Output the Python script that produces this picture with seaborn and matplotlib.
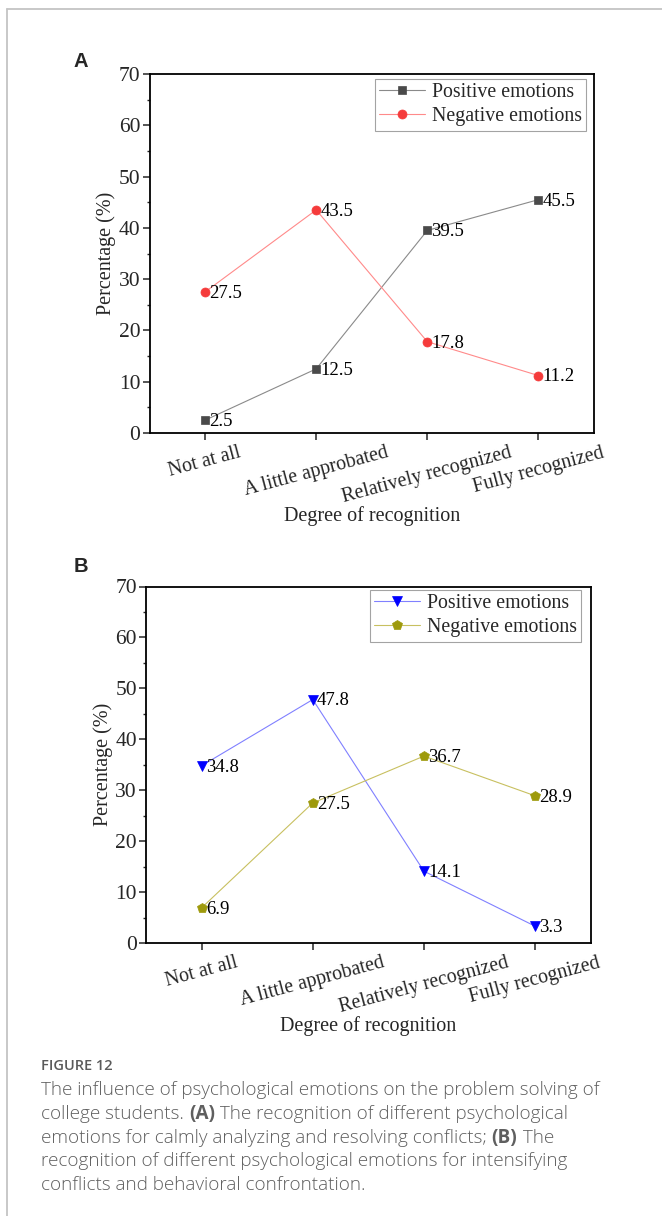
import pandas as pd
import seaborn as sns
import matplotlib.pyplot as plt
from matplotlib.lines import Line2D
from matplotlib.ticker import MultipleLocator

sns.set_style("ticks")
plt.rcParams['font.family'] = ['Liberation Serif', 'DejaVu Serif']
plt.rcParams['axes.unicode_minus'] = False

# --- data ---
categories = ['Not at all', 'A little approbated', 'Relatively recognized', 'Fully recognized']
series_names = ['Positive emotions', 'Negative emotions']

a_positive = [2.5, 12.5, 39.5, 45.5]
a_negative = [27.5, 43.5, 17.8, 11.2]
b_positive = [34.8, 47.8, 14.1, 3.3]
b_negative = [6.9, 27.5, 36.7, 28.9]

caption_title = "FIGURE 12"
caption_lines = [
    [("The influence of psychological emotions on the problem solving of", False)],
    [("college students. ", False), ("(A)", True), (" The recognition of different psychological", False)],
    [("emotions for calmly analyzing and resolving conflicts; ", False), ("(B)", True), (" The", False)],
    [("recognition of different psychological emotions for intensifying", False)],
    [("conflicts and behavioral confrontation.", False)],
]

W, H = 662, 1216
fig = plt.figure(figsize=(W / 100, H / 100), dpi=100)


def px_axes(left, top, right, bottom):
    return fig.add_axes([left / W, 1 - bottom / H, (right - left) / W, (bottom - top) / H])


def draw_panel(ax, pos_vals, neg_vals, styles, legend_box):
    df = pd.DataFrame({
        'x': list(range(len(categories))) * 2,
        'value': pos_vals + neg_vals,
        'series': [series_names[0]] * len(categories) + [series_names[1]] * len(categories),
    })
    for name, st in zip(series_names, styles):
        sub = df[df['series'] == name]
        sns.lineplot(data=sub, x='x', y='value', ax=ax, color=st['line'], linewidth=0.8,
                     marker=st['marker'], markersize=st['ms'], markerfacecolor=st['mc'],
                     markeredgecolor=st['mc'], markeredgewidth=0.5, label=name,
                     errorbar=None, sort=False)
        for x, v in zip(sub['x'], sub['value']):
            ax.annotate(f"{v:.1f}", (x, v), xytext=(3, -1), textcoords='offset points',
                        ha='left', va='center', fontsize=13.5, color='black')

    ax.set_xlim(-0.5, 3.5)
    ax.set_ylim(0, 70)
    ax.yaxis.set_major_locator(MultipleLocator(10))
    ax.yaxis.set_minor_locator(MultipleLocator(5))
    ax.set_xticks(range(len(categories)))
    ax.set_xticklabels(categories, rotation=15, ha='center', fontsize=14.3)
    ax.tick_params(axis='y', labelsize=15.5)
    ax.tick_params(which='major', direction='out', length=5, width=1.1, pad=1.5)
    ax.tick_params(axis='x', which='major', pad=2.5)
    ax.tick_params(which='minor', direction='out', length=2.5, width=1.0)
    ax.tick_params(top=False, right=False)
    for sp in ax.spines.values():
        sp.set_visible(True)
        sp.set_linewidth(1.3)
        sp.set_color('black')
    ax.set_xlabel('Degree of recognition', fontsize=14.5, labelpad=-1)
    ax.set_ylabel('Percentage (%)', fontsize=14.5, labelpad=2)
    leg = ax.legend(loc='upper right', bbox_to_anchor=legend_box, fontsize=14.3,
                    frameon=True, fancybox=False, handlelength=2.3, handletextpad=0.35,
                    labelspacing=0.25, borderpad=0.22, borderaxespad=0)
    leg.get_frame().set_edgecolor('#8c8c8c')
    leg.get_frame().set_linewidth(0.8)


# panel A
ax_a = px_axes(149.5, 74, 594, 433)
draw_panel(ax_a, a_positive, a_negative,
           [dict(line='#8a8a8a', marker='s', ms=5.5, mc='#4a4a4a'),
            dict(line='#ff8a8a', marker='o', ms=6.5, mc='#f53b3b')],
           ((586 - 149.5) / (594 - 149.5), (433 - 79) / (433 - 74)))
fig.text(74 / W, 1 - 61.5 / H, 'A', family='Liberation Sans', fontweight='bold',
         fontsize=14.5, va='center', ha='left')

# panel B
ax_b = px_axes(146, 586.5, 590.7, 943)
draw_panel(ax_b, b_positive, b_negative,
           [dict(line='#8080ff', marker='v', ms=7, mc='#0000ff'),
            dict(line='#c8c060', marker='p', ms=7, mc='#9e9a0c')],
           ((581 - 146) / (590.7 - 146), (943 - 590) / (943 - 586.5)))
fig.text(74 / W, 1 - 566 / H, 'B', family='Liberation Sans', fontweight='bold',
         fontsize=14.5, va='center', ha='left')

# frame around the figure card
frame_kw = dict(color='#c4c4c4', linewidth=1.3, transform=fig.transFigure)
fig.add_artist(Line2D([6.5 / W, 1.0], [1 - 8.5 / H, 1 - 8.5 / H], **frame_kw))
fig.add_artist(Line2D([6.5 / W, 6.5 / W], [0.0, 1 - 8.5 / H], **frame_kw))

# caption
fig.text(41 / W, 1 - 1066 / H, caption_title, family='Open Sans', fontweight='semibold',
         fontsize=10.5, color='#5a5a5a', va='center', ha='left')
renderer = fig.canvas.get_renderer()
y0, dy = 1090, 23.8
for i, parts in enumerate(caption_lines):
    x = 41
    for txt, bold in parts:
        t = fig.text(x / W, 1 - (y0 + i * dy) / H, txt, family='Open Sans',
                     fontweight='bold' if bold else 'light', fontsize=13.6,
                     color='#5f5f5f', va='center', ha='left')
        x += t.get_window_extent(renderer).width

fig.savefig('out.png', dpi=100)
